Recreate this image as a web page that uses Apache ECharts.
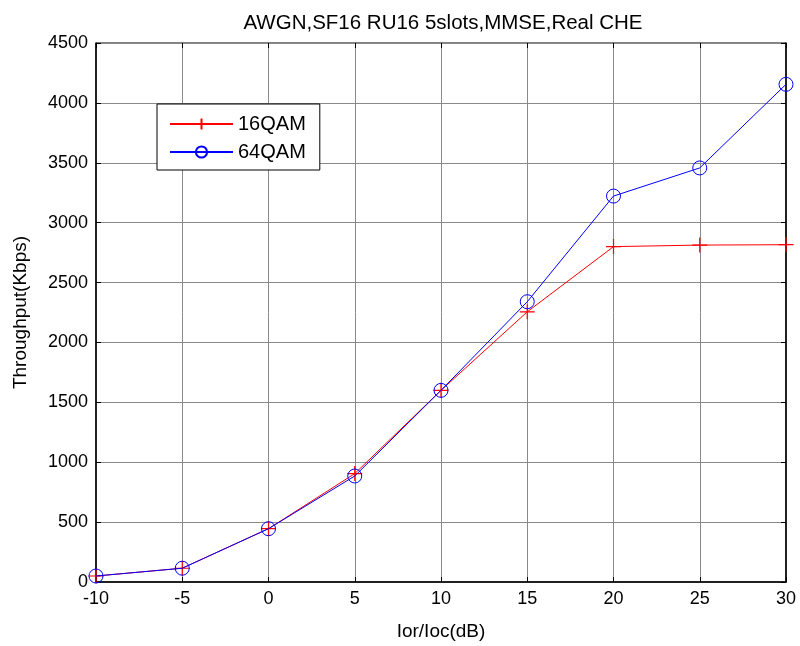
<!DOCTYPE html>
<html><head><meta charset="utf-8">
<script src="https://cdn.jsdelivr.net/npm/echarts@6/dist/echarts.min.js"></script>
<style>html,body{margin:0;padding:0;background:#fff}#c{width:800px;height:646px}</style>
</head><body><div id="c"></div>
<script>
var snr = [-10, -5, 0, 5, 10, 15, 20, 25, 30];
var qam16 = [50, 115, 445, 905, 1600, 2256, 2800, 2813, 2816];
var qam64 = [50, 115, 445, 885, 1600, 2340, 3222, 3457, 4155];
var xTicks = [-10, -5, 0, 5, 10, 15, 20, 25, 30];
var yTicks = [0, 500, 1000, 1500, 2000, 2500, 3000, 3500, 4000, 4500];

var font = 'Arial, "Liberation Sans", sans-serif';
function pairs(ys){ return snr.map(function(x,i){ return [x, ys[i]]; }); }
function plain(v){ return String(v); }
var chart = echarts.init(document.getElementById('c'));
var gridLine = {show:true, lineStyle:{color:'#8a8a8a', width:1}};
var tick = {show:true, inside:true, length:5, lineStyle:{color:'#000'}};
chart.setOption({
  animation:false,
  backgroundColor:'#fff',
  title:{text:'AWGN,SF16 RU16 5slots,MMSE,Real CHE', left:438, textAlign:'center', top:8,
    textStyle:{fontFamily:font, fontSize:20.5, fontWeight:'normal', color:'#000'}},
  legend:{left:157, top:104, orient:'vertical', itemWidth:63, itemHeight:14, itemGap:8, itemTextGap:9,
    padding:[10,14,8,12], borderColor:'#000', borderWidth:1, backgroundColor:'#fff',
    textStyle:{fontFamily:font, fontSize:20, color:'#000'},
    data:['16QAM','64QAM']},
  grid:{left:96, right:14, top:43, bottom:60, show:true, borderColor:'#000', borderWidth:1},
  xAxis:[{type:'value', min:xTicks[0], max:xTicks[xTicks.length-1], interval:5,
    name:'Ior/Ioc(dB)', nameLocation:'middle', nameGap:40,
    nameTextStyle:{fontFamily:font, fontSize:19, color:'#000'},
    axisLine:{onZero:false, lineStyle:{color:'#000', width:1.5}},
    axisTick:tick,
    axisLabel:{fontFamily:font, fontSize:18, color:'#000', margin:8, formatter:plain},
    splitLine:gridLine},
   {type:'value', position:'top', min:xTicks[0], max:xTicks[xTicks.length-1], interval:5,
    axisLine:{show:false, onZero:false}, axisTick:tick,
    axisLabel:{show:false}, splitLine:{show:false}}],
  yAxis:[{type:'value', min:yTicks[0], max:yTicks[yTicks.length-1], interval:500,
    name:'Throughput(Kbps)', nameLocation:'middle', nameGap:66,
    nameTextStyle:{fontFamily:font, fontSize:19, color:'#000'},
    axisLine:{show:true, onZero:false, lineStyle:{color:'#000', width:1.5}},
    axisTick:tick,
    axisLabel:{fontFamily:font, fontSize:18, color:'#000', margin:8, formatter:plain},
    splitLine:gridLine},
   {type:'value', position:'right', min:yTicks[0], max:yTicks[yTicks.length-1], interval:500,
    axisLine:{show:true, onZero:false, lineStyle:{color:'#000', width:1.5}},
    axisTick:tick,
    axisLabel:{show:false}, splitLine:{show:false}}],
  series:[
    {name:'16QAM', type:'line', data:pairs(qam16), symbol:'path://M0,-10L0,10M-10,0L10,0', symbolSize:15,
     lineStyle:{color:'#ff0000', width:1}, itemStyle:{color:'#ff0000', borderColor:'#ff0000', borderWidth:1.2}, z:3},
    {name:'64QAM', type:'line', data:pairs(qam64), symbol:'circle', symbolSize:14,
     lineStyle:{color:'#0000ff', width:1}, itemStyle:{color:'rgba(0,0,0,0)', borderColor:'#0000ff', borderWidth:1}, z:4}
  ]
});
</script></body></html>
